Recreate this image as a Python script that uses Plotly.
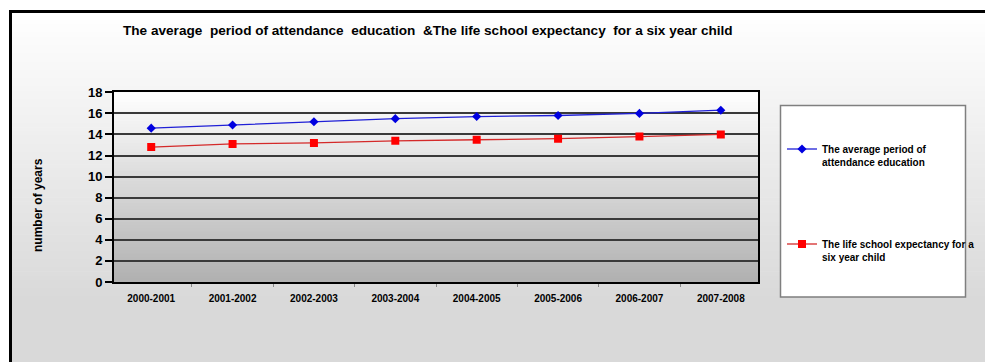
import plotly.graph_objects as go

# School years and the two series (years of schooling)
years = ["2000-2001", "2001-2002", "2002-2003", "2003-2004",
         "2004-2005", "2005-2006", "2006-2007", "2007-2008"]
avg_attendance = [14.6, 14.9, 15.2, 15.5, 15.7, 15.8, 16.0, 16.3]
life_expectancy = [12.8, 13.1, 13.2, 13.4, 13.5, 13.6, 13.8, 14.0]

W, H = 985, 362
FONT = "Liberation Sans, Arial, sans-serif"


def fx(px):
    return px / W


def fy(py):
    return 1 - py / H


def grey(v):
    v = int(round(v))
    return f"rgb({v},{v},{v})"


shapes = []

# Chart-area background: white fading to light grey towards the bottom
N = 70
top, bot = 12, 300
for i in range(N):
    y0 = top + (bot - top) * i / N
    y1 = top + (bot - top) * (i + 1) / N + 0.6
    t = (i + 0.5) / N
    shapes.append(dict(type="rect", xref="paper", yref="paper",
                       x0=fx(11), x1=fx(W + 5), y0=fy(y0), y1=fy(y1),
                       fillcolor=grey(255 - (255 - 217) * t), line_width=0,
                       layer="below"))
shapes.append(dict(type="rect", xref="paper", yref="paper",
                   x0=fx(11), x1=fx(W + 5), y0=fy(bot), y1=fy(H + 5),
                   fillcolor=grey(217), line_width=0, layer="below"))

# Outer chart frame (runs off the right and bottom edges)
shapes.append(dict(type="rect", xref="paper", yref="paper",
                   x0=fx(10.5), x1=fx(W + 10), y0=fy(11.5), y1=fy(H + 10),
                   line=dict(color="black", width=3), fillcolor="rgba(0,0,0,0)",
                   layer="below"))

# Legend box
shapes.append(dict(type="rect", xref="paper", yref="paper",
                   x0=fx(780.5), x1=fx(965.5), y0=fy(105.5), y1=fy(297),
                   line=dict(color="#7f7f7f", width=1.5), fillcolor="white",
                   layer="below"))

# Plot-area background: white at the top to mid grey at the bottom
M = 60
for i in range(M):
    y0 = i / M
    y1 = (i + 1) / M + 0.004
    t = 1 - (i + 0.5) / M
    shapes.append(dict(type="rect", xref="x domain", yref="y domain",
                       x0=0, x1=1, y0=y0, y1=min(y1, 1),
                       fillcolor=grey(255 - (255 - 176) * t), line_width=0,
                       layer="below"))

fig = go.Figure()
fig.add_trace(go.Scatter(
    x=years, y=avg_attendance, mode="lines+markers",
    name="The average period of<br>attendance education",
    line=dict(color="#1f1fd6", width=1.3),
    marker=dict(symbol="diamond", size=7, color="#0000e0"),
    legendgroup="a"))
fig.add_trace(go.Scatter(
    x=years, y=life_expectancy, mode="lines+markers",
    name="The life school expectancy for a<br>six year child",
    line=dict(color="#d42a2a", width=1.3),
    marker=dict(symbol="square", size=8, color="#ff0000"),
    legendgroup="b"))

fig.update_layout(
    width=W, height=H, autosize=False,
    margin=dict(l=0, r=0, t=0, b=0, pad=0, autoexpand=False),
    paper_bgcolor="white",
    plot_bgcolor="rgba(0,0,0,0)",
    shapes=shapes,
    showlegend=True,
    legend=dict(x=fx(782), y=fy(136), xanchor="left", yanchor="top",
                bgcolor="rgba(0,0,0,0)", borderwidth=0,
                font=dict(family=FONT, size=10, color="black", weight="bold"),
                valign="top", tracegroupgap=66, traceorder="grouped"),
    annotations=[
        dict(text="The average  period of attendance  education  &The life school expectancy  for a six year child",
             xref="paper", yref="paper", x=fx(428), y=fy(30),
             xanchor="center", yanchor="middle", showarrow=False,
             font=dict(family=FONT, size=13.6, color="black", weight="bold")),
        dict(text="number of years",
             xref="paper", yref="paper", x=fx(38), y=fy(205),
             xanchor="center", yanchor="middle", showarrow=False,
             textangle=-90,
             font=dict(family=FONT, size=12, color="black", weight="bold")),
    ],
    xaxis=dict(
        domain=[fx(114), fx(758)],
        type="category", automargin=False,
        showline=True, mirror=True, linecolor="black", linewidth=2,
        showgrid=False, zeroline=False,
        ticks="outside", tickson="boundaries", ticklen=3, tickcolor="#888",
        ticklabelstandoff=6,
        tickfont=dict(family=FONT, size=10, color="black", weight="bold"),
    ),
    yaxis=dict(
        domain=[fy(282), fy(92.3)],
        range=[0, 18], dtick=2, automargin=False,
        showline=True, mirror=True, linecolor="black", linewidth=2,
        showgrid=True, gridcolor="#3a3a3a", gridwidth=1.5,
        zeroline=False,
        ticks="outside", ticklen=7, tickcolor="black", tickwidth=1.5,
        tickfont=dict(family=FONT, size=13, color="black", weight="bold"),
    ),
)

fig.write_html("out.html")
